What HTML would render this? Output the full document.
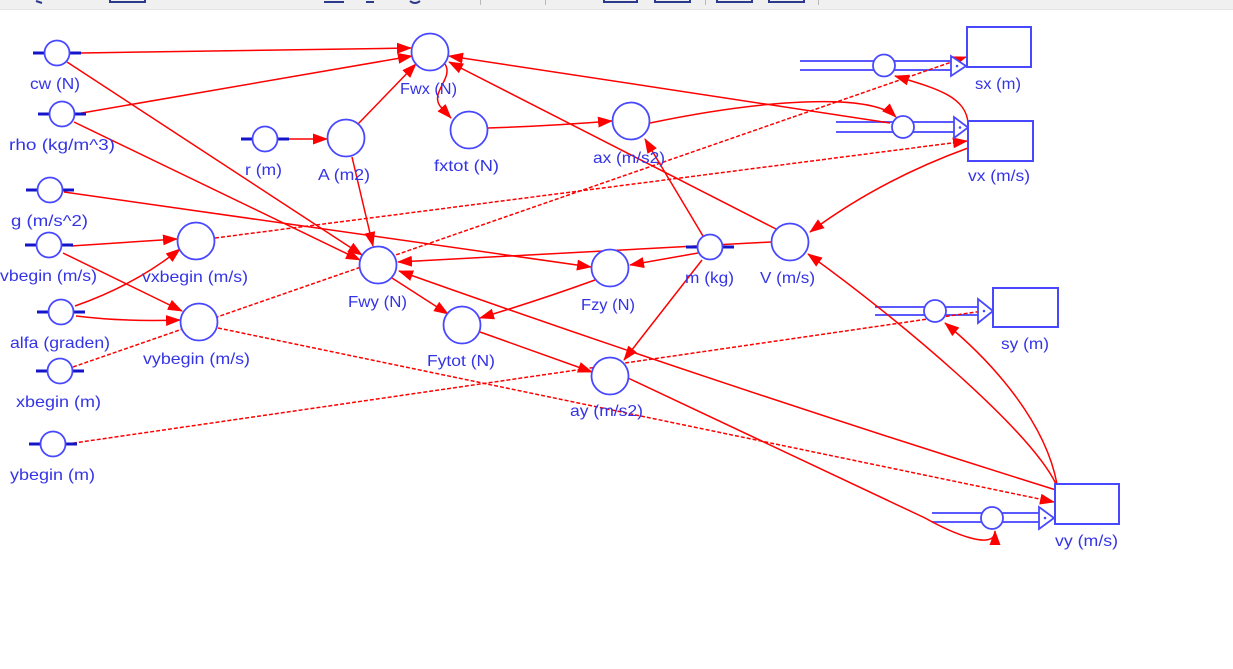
<!DOCTYPE html>
<html>
<head>
<meta charset="utf-8">
<style>
  html,body{margin:0;padding:0;background:#fff;}
  svg{display:block;}
  text{font-family:"Liberation Sans","DejaVu Sans",sans-serif;font-size:16px;fill:#3434e6;}
</style>
</head>
<body>
<svg width="1233" height="669" viewBox="0 0 1233 669" xmlns="http://www.w3.org/2000/svg">
  <defs>
    <marker id="ah" markerUnits="userSpaceOnUse" markerWidth="15" markerHeight="11" refX="14" refY="5.5" orient="auto">
      <path d="M0,0 L15,5.5 L0,11 z" fill="#ff0000"/>
    </marker>
  </defs>
  <rect width="1233" height="669" fill="#ffffff"/>

  <!-- toolbar -->
  <rect x="0" y="0" width="1233" height="9" fill="#f0f0f0"/>
  <line x1="0" y1="9.5" x2="1233" y2="9.5" stroke="#e6e6e6" stroke-width="1"/>
  <g fill="none" stroke="#2c3a8c" stroke-width="2">
    <rect x="110" y="-6" width="35" height="8"/>
    <rect x="604" y="-6" width="33" height="8"/>
    <rect x="655" y="-6" width="35" height="8"/>
    <rect x="717" y="-6" width="35" height="8"/>
    <rect x="769" y="-6" width="35" height="8"/>
    <path d="M36,1 L42,3"/>
    <path d="M324,2 L344,2"/>
    <path d="M366,2 L374,2"/>
    <path d="M410,1 Q415,5 420,1"/>
  </g>
  <g stroke="#b8b8b8" stroke-width="1">
    <line x1="480.5" y1="0" x2="480.5" y2="5"/>
    <line x1="545.5" y1="0" x2="545.5" y2="5"/>
    <line x1="705.5" y1="0" x2="705.5" y2="5"/>
    <line x1="818.5" y1="0" x2="818.5" y2="5"/>
  </g>

  <!-- flows (pipes) -->
  <g stroke="#5a5aff" stroke-width="2" fill="none">
    <line x1="800" y1="61" x2="951" y2="61"/>
    <line x1="800" y1="70" x2="951" y2="70"/>
    <line x1="836" y1="122" x2="954" y2="122"/>
    <line x1="836" y1="132" x2="954" y2="132"/>
    <line x1="875" y1="307" x2="978" y2="307"/>
    <line x1="875" y1="315" x2="978" y2="315"/>
    <line x1="932" y1="513" x2="1039" y2="513"/>
    <line x1="932" y1="522" x2="1039" y2="522"/>
  </g>

  <!-- connectors -->
  <g stroke="#ff0000" stroke-width="1.5" fill="none">
    <g stroke-dasharray="4 2">
      <path d="M73,367 L966,57" marker-end="url(#ah)"/>
      <path d="M215,238 L967,141" marker-end="url(#ah)"/>
      <path d="M218,328 L1054,502" marker-end="url(#ah)"/>
      <path d="M67,444 L990,310"/>
    </g>
    <path d="M81,53 L411,48" marker-end="url(#ah)"/>
    <path d="M67,62 L362,255" marker-end="url(#ah)"/>
    <path d="M76,114 L412,56" marker-end="url(#ah)"/>
    <path d="M74,122 L360,260" marker-end="url(#ah)"/>
    <path d="M64,192 L591,267" marker-end="url(#ah)"/>
    <path d="M71,246 Q118,243 177,239" marker-end="url(#ah)"/>
    <path d="M63,253 L182,311" marker-end="url(#ah)"/>
    <path d="M75,306 Q135,285 180,249" marker-end="url(#ah)"/>
    <path d="M76,316 Q125,322 180,320" marker-end="url(#ah)"/>
    <path d="M289,139 L327,139" marker-end="url(#ah)"/>
    <path d="M358,124 L416,64" marker-end="url(#ah)"/>
    <path d="M352,157 L373,246" marker-end="url(#ah)"/>
    <path d="M445,64 C454,78 430,92 440,106 L451,118" marker-end="url(#ah)"/>
    <path d="M488,128 Q550,126 612,121" marker-end="url(#ah)"/>
    <path d="M650,123 C760,100 870,92 896,117" marker-end="url(#ah)"/>
    <path d="M968,123 C966,96 935,88 895,76" marker-end="url(#ah)"/>
    <path d="M968,148 Q880,180 810,232" marker-end="url(#ah)"/>
    <path d="M1056,484 C1030,430 900,320 808,254" marker-end="url(#ah)"/>
    <path d="M1057,484 C1045,420 990,360 945,323" marker-end="url(#ah)"/>
    <path d="M776,229 L449,62" marker-end="url(#ah)"/>
    <path d="M890,123 L449,56" marker-end="url(#ah)"/>
    <path d="M771,242 L398,262" marker-end="url(#ah)"/>
    <path d="M698,253 L630,265" marker-end="url(#ah)"/>
    <path d="M703,236 L645,139" marker-end="url(#ah)"/>
    <path d="M702,260 L624,360" marker-end="url(#ah)"/>
    <path d="M392,278 L448,314" marker-end="url(#ah)"/>
    <path d="M595,280 Q540,300 480,318" marker-end="url(#ah)"/>
    <path d="M480,332 L592,372" marker-end="url(#ah)"/>
    <path d="M628,378 L925,518 C950,532 995,552 995,531" marker-end="url(#ah)"/>
    <path d="M1056,490 Q720,385 399,271" marker-end="url(#ah)"/>
  </g>

  <!-- flow valves and triangles -->
  <g stroke="#4848ff" stroke-width="1.8" fill="#ffffff">
    <circle cx="884" cy="65.5" r="11"/>
    <circle cx="903" cy="127" r="11"/>
    <circle cx="935" cy="311" r="11"/>
    <circle cx="992" cy="518" r="11"/>
    <path d="M951,56 L951,76 L966,66 z"/>
    <path d="M954,117 L954,138 L968,127.5 z"/>
    <path d="M978,299 L978,323 L993,311 z"/>
    <path d="M1039,507 L1039,529 L1054,518 z"/>
  </g>
  <g fill="#4848ff">
    <circle cx="957" cy="66" r="1.3"/>
    <circle cx="960" cy="127.5" r="1.3"/>
    <circle cx="984" cy="311" r="1.3"/>
    <circle cx="1045" cy="518" r="1.3"/>
  </g>

  <!-- stocks -->
  <g stroke="#4848ff" stroke-width="2" fill="#ffffff">
    <rect x="967" y="27" width="64" height="40"/>
    <rect x="968" y="121" width="65" height="40"/>
    <rect x="993" y="288" width="65" height="39"/>
    <rect x="1055" y="484" width="64" height="40"/>
  </g>

  <!-- constants -->
  <g stroke="#1414c8" stroke-width="3">
    <line x1="33" y1="53" x2="45" y2="53"/><line x1="69" y1="53" x2="81" y2="53"/>
    <line x1="38" y1="114" x2="50" y2="114"/><line x1="74" y1="114" x2="86" y2="114"/>
    <line x1="26" y1="190" x2="38" y2="190"/><line x1="62" y1="190" x2="74" y2="190"/>
    <line x1="25" y1="245" x2="37" y2="245"/><line x1="61" y1="245" x2="73" y2="245"/>
    <line x1="37" y1="312" x2="49" y2="312"/><line x1="73" y1="312" x2="85" y2="312"/>
    <line x1="36" y1="371" x2="48" y2="371"/><line x1="72" y1="371" x2="84" y2="371"/>
    <line x1="29" y1="444" x2="41" y2="444"/><line x1="65" y1="444" x2="77" y2="444"/>
    <line x1="241" y1="139" x2="253" y2="139"/><line x1="277" y1="139" x2="289" y2="139"/>
    <line x1="686" y1="247" x2="698" y2="247"/><line x1="722" y1="247" x2="734" y2="247"/>
  </g>
  <g stroke="#4848ff" stroke-width="1.8" fill="#ffffff">
    <circle cx="57" cy="53" r="12.5"/>
    <circle cx="62" cy="114" r="12.5"/>
    <circle cx="50" cy="190" r="12.5"/>
    <circle cx="49" cy="245" r="12.5"/>
    <circle cx="61" cy="312" r="12.5"/>
    <circle cx="60" cy="371" r="12.5"/>
    <circle cx="53" cy="444" r="12.5"/>
    <circle cx="265" cy="139" r="12.5"/>
    <circle cx="710" cy="247" r="12.5"/>
  </g>

  <!-- auxiliaries -->
  <g stroke="#4848ff" stroke-width="1.8" fill="#ffffff">
    <circle cx="430" cy="52" r="18.5"/>
    <circle cx="346" cy="138" r="18.5"/>
    <circle cx="469" cy="130" r="18.5"/>
    <circle cx="631" cy="121" r="18.5"/>
    <circle cx="790" cy="242" r="18.5"/>
    <circle cx="610" cy="268" r="18.5"/>
    <circle cx="378" cy="265" r="18.5"/>
    <circle cx="462" cy="325" r="18.5"/>
    <circle cx="610" cy="376" r="18.5"/>
    <circle cx="196" cy="241" r="18.5"/>
    <circle cx="199" cy="322" r="18.5"/>
  </g>

  <!-- labels -->
  <g>
    <text x="30" y="89" textLength="50" lengthAdjust="spacingAndGlyphs">cw (N)</text>
    <text x="9" y="150" textLength="106" lengthAdjust="spacingAndGlyphs">rho (kg/m^3)</text>
    <text x="11" y="226" textLength="77" lengthAdjust="spacingAndGlyphs">g (m/s^2)</text>
    <text x="0" y="281" textLength="97" lengthAdjust="spacingAndGlyphs">vbegin (m/s)</text>
    <text x="10" y="348" textLength="100" lengthAdjust="spacingAndGlyphs">alfa (graden)</text>
    <text x="16" y="407" textLength="85" lengthAdjust="spacingAndGlyphs">xbegin (m)</text>
    <text x="10" y="480" textLength="85" lengthAdjust="spacingAndGlyphs">ybegin (m)</text>
    <text x="245" y="175" textLength="37" lengthAdjust="spacingAndGlyphs">r (m)</text>
    <text x="685" y="283" textLength="49" lengthAdjust="spacingAndGlyphs">m (kg)</text>

    <text x="400" y="94" textLength="57" lengthAdjust="spacingAndGlyphs">Fwx (N)</text>
    <text x="318" y="180" textLength="52" lengthAdjust="spacingAndGlyphs">A (m2)</text>
    <text x="434" y="171" textLength="65" lengthAdjust="spacingAndGlyphs">fxtot (N)</text>
    <text x="593" y="163" textLength="72" lengthAdjust="spacingAndGlyphs">ax (m/s2)</text>
    <text x="760" y="283" textLength="55" lengthAdjust="spacingAndGlyphs">V (m/s)</text>
    <text x="581" y="310" textLength="54" lengthAdjust="spacingAndGlyphs">Fzy (N)</text>
    <text x="348" y="307" textLength="59" lengthAdjust="spacingAndGlyphs">Fwy (N)</text>
    <text x="427" y="366" textLength="68" lengthAdjust="spacingAndGlyphs">Fytot (N)</text>
    <text x="570" y="416" textLength="73" lengthAdjust="spacingAndGlyphs">ay (m/s2)</text>
    <text x="142" y="282" textLength="106" lengthAdjust="spacingAndGlyphs">vxbegin (m/s)</text>
    <text x="143" y="364" textLength="107" lengthAdjust="spacingAndGlyphs">vybegin (m/s)</text>

    <text x="975" y="89" textLength="46" lengthAdjust="spacingAndGlyphs">sx (m)</text>
    <text x="968" y="181" textLength="62" lengthAdjust="spacingAndGlyphs">vx (m/s)</text>
    <text x="1001" y="349" textLength="48" lengthAdjust="spacingAndGlyphs">sy (m)</text>
    <text x="1055" y="546" textLength="63" lengthAdjust="spacingAndGlyphs">vy (m/s)</text>
  </g>
</svg>
</body>
</html>
